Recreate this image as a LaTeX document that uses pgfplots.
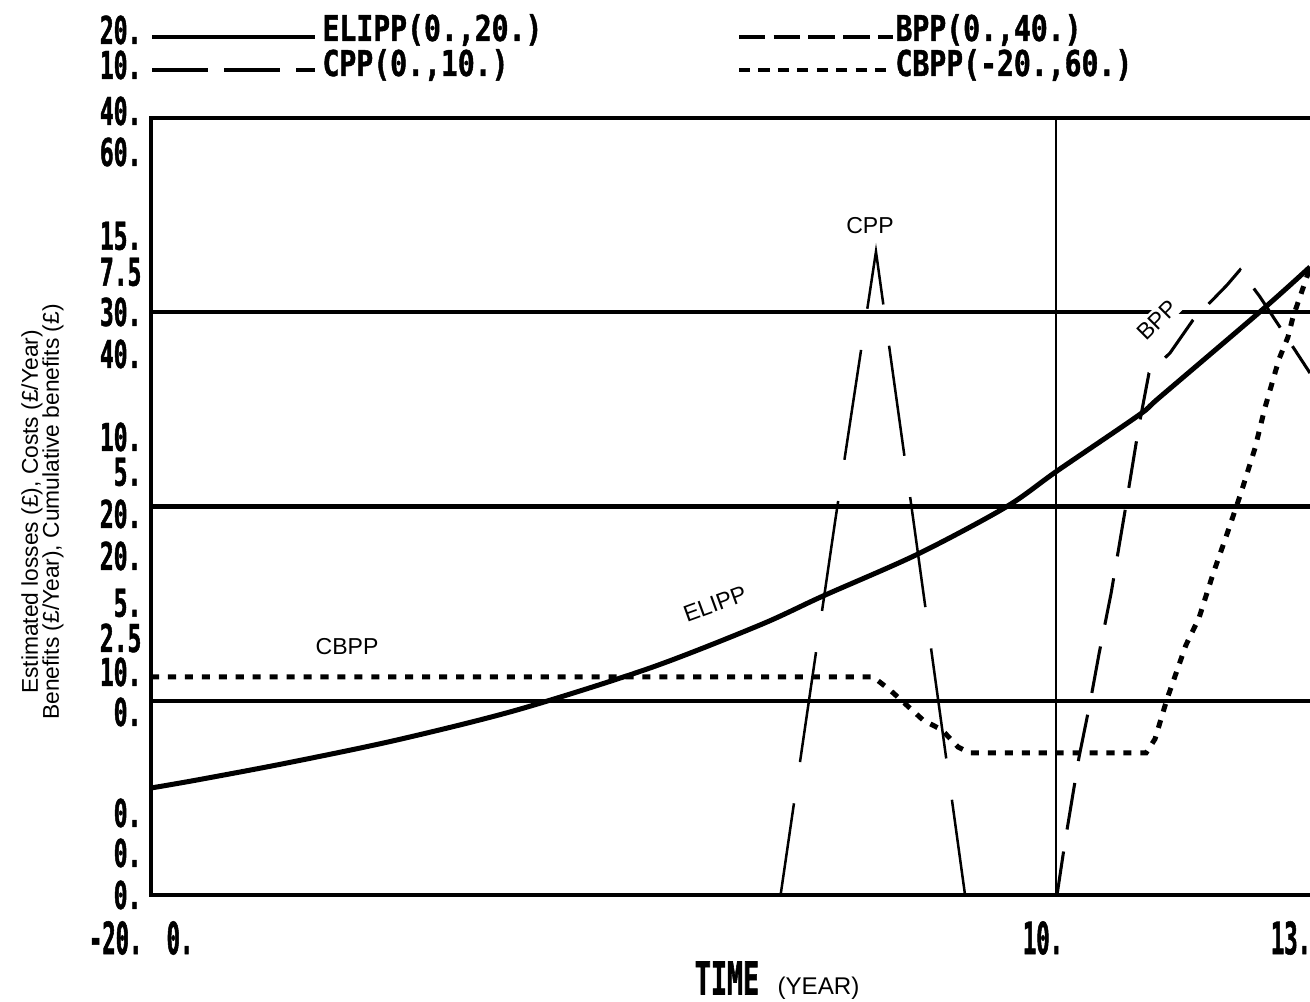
\documentclass[border=0pt]{standalone}
\usepackage{pgfplots}
\pgfplotsset{compat=1.18}
\usepackage{fontspec}
\setmainfont{Liberation Sans}
\newfontfamily\tickfam{DejaVu Sans Mono Bold}[FakeStretch=0.6, FakeBold=1.2]
\newfontfamily\xtickfam{DejaVu Sans Mono Bold}[FakeStretch=0.5, FakeBold=1.2]
\newfontfamily\legfam{DejaVu Sans Mono Bold}[FakeStretch=0.79, FakeBold=1.2]
\newfontfamily\timefam{DejaVu Sans Mono Bold}[FakeStretch=0.59, FakeBold=1.2]
\newcommand\tickf{\tickfam\fontsize{13.8}{14}\selectfont}
\newcommand\xtickf{\xtickfam\fontsize{16}{16}\selectfont}
\newcommand\legf{\legfam\fontsize{12.8}{13}\selectfont}
\newcommand\timef{\timefam\fontsize{16.3}{16}\selectfont}
\newcommand\annf{\fontsize{8.3}{9}\selectfont}
\pgfplotsset{dyn/.style={at={(54.36pt,38.52pt)}, anchor=south west, scale only axis,
  width=420.66pt, height=279.72pt, xmin=-0.647, xmax=13.1}}
\begin{document}
\begin{tikzpicture}
\path[use as bounding box] (0,0) rectangle (471.6pt,360.72pt);
\clip (0,0) rectangle (471.6pt,360.72pt);
% frame, grid and reference line
\begin{axis}[dyn, ymin=0, ymax=4, xtick=\empty, ytick={1,2,3}, yticklabels={},
  major tick length=0pt, ymajorgrids, major grid style={black, line width=1.6pt},
  axis line style={black, line width=1.6pt}]
\addplot[black, line width=0.7pt] coordinates {(10,0) (10,4)};
\node[fill=white, inner sep=1pt, rotate=45, font=\annf] at (axis cs:11.19,2.96) {BPP};
\end{axis}
% ELIPP (0..20)
\begin{axis}[dyn, hide axis, ymin=0, ymax=20]
\addplot[black, line width=1.8pt, smooth] coordinates {
(-0.647,2.754) (-0.106,2.960) (0.953,3.398) (2.247,3.990) (3.659,4.762)
(5.224,5.843) (6.518,6.950) (7.259,7.696) (8.376,8.777) (9.412,9.987)
(10.012,10.914) (10.976,12.355) (11.224,12.819) (12.424,15.058) (12.988,16.165)};
\end{axis}
% CPP (0..10)
\begin{axis}[dyn, hide axis, ymin=0, ymax=10]
\addplot[black, line width=0.9pt, dash pattern=on 40pt off 15pt] coordinates {
(-0.647,0) (6.76,0) (7.4,4.8) (7.882,8.28) (8.33,4.76) (8.93,0) (12.988,0)};
\end{axis}
% BPP (0..40)
\begin{axis}[dyn, hide axis, ymin=0, ymax=40]
\addplot[black, line width=1.1pt, dash pattern=on 17pt off 8pt] coordinates {
(-0.647,0) (10.012,0) (10.106,2.73) (10.271,7.10) (10.40,9.88) (10.506,12.41)
(10.647,15.50) (10.812,19.77) (10.976,24.15) (11.094,26.87) (11.341,27.90)
(11.612,29.60) (12.012,31.40) (12.165,32.18) (12.40,30.79) (12.788,28.21) (12.988,26.87)};
\end{axis}
% CBPP (-20..60)
\begin{axis}[dyn, hide axis, ymin=-20, ymax=60]
\addplot[black, line width=1.8pt, dash pattern=on 2.9pt off 3.2pt] coordinates {
(-0.647,2.445) (7.85,2.445) (8.047,1.107) (8.435,-1.982) (8.659,-3.012) (8.847,-4.762)
(8.988,-5.380) (11.059,-5.380) (11.165,-3.938) (11.306,0.180) (11.529,5.74)
(11.682,8.52) (11.847,13.05) (12.012,17.17) (12.176,21.39) (12.341,26.0)
(12.459,30.2) (12.624,35.19) (12.729,37.45) (12.788,39.51) (12.988,44.56)};
\end{axis}
% texts in image pixel coordinates
\begin{scope}[shift={(0pt,360.72pt)}, x=0.36pt, y=-0.36pt]
\tikzset{yl/.style={anchor=east, inner sep=0pt, font=\tickf}}
% legend
\node[yl] at (142,30) {20.};
\node[yl] at (142,65) {10.};
\draw[line width=1.2pt] (152,37) -- (315,37);
\draw[line width=1.2pt, dash pattern=on 20pt off 6pt] (152,70) -- (315,70);
\node[anchor=west, inner sep=0pt, font=\legf] at (322,30) {ELIPP(0.,20.)};
\node[anchor=west, inner sep=0pt, font=\legf] at (322,65) {CPP(0.,10.)};
\draw[line width=1.2pt, dash pattern=on 9.5pt off 3pt] (739,37) -- (893,37);
\draw[line width=1.6pt, dash pattern=on 4pt off 3pt] (739,70) -- (893,70);
\node[anchor=west, inner sep=0pt, font=\legf] at (895,30) {BPP(0.,40.)};
\node[anchor=west, inner sep=0pt, font=\legf] at (895,65) {CBPP(-20.,60.)};
% y scale labels
\node[yl] at (142,111) {40.};
\node[yl] at (142,152) {60.};
\node[yl] at (142,236) {15.};
\node[yl] at (142,272) {7.5};
\node[yl] at (142,312) {30.};
\node[yl] at (142,354) {40.};
\node[yl] at (142,437) {10.};
\node[yl] at (142,472) {5.};
\node[yl] at (142,514) {20.};
\node[yl] at (142,556) {20.};
\node[yl] at (142,603) {5.};
\node[yl] at (142,638) {2.5};
\node[yl] at (142,672) {10.};
\node[yl] at (142,712) {0.};
\node[yl] at (142,813) {0.};
\node[yl] at (142,853) {0.};
\node[yl] at (142,895) {0.};
% x row
\node[anchor=east, inner sep=0pt, font=\xtickf] at (143,938) {-20.};
\node[inner sep=0pt, font=\xtickf] at (180,938) {0.};
\node[inner sep=0pt, font=\xtickf] at (1043,938) {10.};
\node[inner sep=0pt, font=\xtickf] at (1291,938) {13.};
\node[inner sep=0pt, font=\timef] at (727,978) {TIME};
\node[anchor=base west, inner sep=0pt, font=\fontsize{8.7}{9}\selectfont] at (777,995) {(YEAR)};
% axis title
\node[rotate=90, inner sep=0pt, font=\fontsize{8.2}{9}\selectfont] at (32,512) {Estimated losses (£), Costs (£/Year)};
\node[rotate=90, inner sep=0pt, font=\fontsize{8.2}{9}\selectfont] at (53,512) {Benefits (£/Year), Cumulative benefits (£)};
% annotations
\node[font=\annf, inner sep=0pt] at (870,226) {CPP};
\node[font=\annf, inner sep=0pt, rotate=20] at (715,604) {ELIPP};
\node[font=\annf, inner sep=0pt] at (347,647) {CBPP};
\end{scope}
\end{tikzpicture}
\end{document}
